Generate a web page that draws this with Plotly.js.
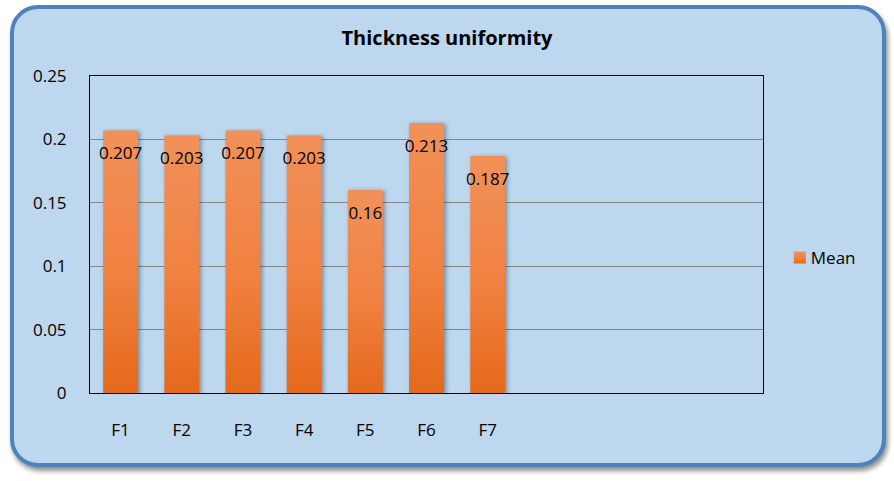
<!DOCTYPE html>
<html>
<head>
<meta charset="utf-8">
<script src="https://cdn.plot.ly/plotly-3.0.1.min.js"></script>
<style>
  html, body { margin: 0; padding: 0; background: #ffffff; }
  #wrap { position: relative; width: 894px; height: 481px; overflow: hidden; }
  #frame {
    position: absolute; left: 10px; top: 5px; width: 868px; height: 454px;
    background: #bdd7ee; border: 4px solid #4f81bd; border-radius: 28px;
    box-shadow: 2px 4px 5px rgba(0,0,0,0.45);
  }
  #chart { position: absolute; left: 0; top: 0; width: 894px; height: 481px; }
  .trace.bars .point path { filter: drop-shadow(2px 1px 2px rgba(0,0,0,0.35)); }
</style>
</head>
<body>
<div id="wrap">
  <div id="frame"></div>
  <div id="chart"></div>
</div>
<script>
const categories = ['F1', 'F2', 'F3', 'F4', 'F5', 'F6', 'F7'];
const meanValues = [0.207, 0.203, 0.207, 0.203, 0.16, 0.213, 0.187];
const valueLabels = ['0.207', '0.203', '0.207', '0.203', '0.16', '0.213', '0.187'];
const seriesName = 'Mean';
const yTickVals = [0, 0.05, 0.1, 0.15, 0.2, 0.25];
const yTickText = ['0', '0.05', '0.1', '0.15', '0.2', '0.25'];
const chartTitle = 'Thickness uniformity';

const font = 'Open Sans, Noto Sans, sans-serif';

const traces = [
  {
    type: 'bar',
    x: categories,
    y: meanValues,
    name: seriesName,
    marker: { color: '#ec7d35', line: { width: 0 } },
    hoverinfo: 'skip'
  },
  {
    type: 'scatter',
    mode: 'markers+text',
    x: categories,
    y: meanValues,
    text: valueLabels,
    textposition: 'bottom center',
    textfont: { family: font, size: 17, color: '#000000' },
    marker: { size: 24, color: 'rgba(0,0,0,0)' },
    showlegend: false,
    hoverinfo: 'skip'
  }
];

const layout = {
  width: 894,
  height: 481,
  paper_bgcolor: 'rgba(0,0,0,0)',
  plot_bgcolor: 'rgba(0,0,0,0)',
  margin: { l: 90, r: 131, t: 76, b: 88 },
  title: {
    text: '<b>' + chartTitle + '</b>',
    font: { family: font, size: 20, color: '#000000' },
    x: 0.5, xanchor: 'center', xref: 'container',
    y: 1 - 38 / 481, yref: 'container', yanchor: 'middle'
  },
  bargap: 0.43,
  showlegend: true,
  legend: {
    x: 1.025, xanchor: 'left', y: 0.426, yanchor: 'middle',
    font: { family: font, size: 17, color: '#000000' },
    bgcolor: 'rgba(0,0,0,0)',
    itemwidth: 30
  },
  xaxis: {
    type: 'category',
    categoryorder: 'array',
    categoryarray: categories,
    range: [-0.5, 10.5],
    showgrid: false,
    showline: true, linecolor: '#000000', linewidth: 1, mirror: true,
    ticks: '',
    ticklabelstandoff: 22,
    tickfont: { family: font, size: 17, color: '#000000' },
    zeroline: false,
    fixedrange: true
  },
  yaxis: {
    range: [0, 0.25],
    tickvals: yTickVals,
    ticktext: yTickText,
    showgrid: true, gridcolor: '#868686', gridwidth: 1,
    showline: true, linecolor: '#000000', linewidth: 1, mirror: true,
    ticks: '',
    ticklabelstandoff: 19,
    tickfont: { family: font, size: 17, color: '#000000' },
    zeroline: true, zerolinecolor: '#868686', zerolinewidth: 1,
    fixedrange: true
  }
};

Plotly.newPlot('chart', traces, layout, { displayModeBar: false, staticPlot: true }).then(function (gd) {
  const svg = gd.querySelector('svg.main-svg');
  const ns = 'http://www.w3.org/2000/svg';
  let defs = svg.querySelector('defs');
  if (!defs) { defs = document.createElementNS(ns, 'defs'); svg.insertBefore(defs, svg.firstChild); }
  const grad = document.createElementNS(ns, 'linearGradient');
  grad.setAttribute('id', 'barGrad');
  grad.setAttribute('x1', '0'); grad.setAttribute('y1', '0');
  grad.setAttribute('x2', '0'); grad.setAttribute('y2', '1');
  [['0%', '#f19159'], ['55%', '#f08140'], ['100%', '#e4691a']].forEach(function (s) {
    const st = document.createElementNS(ns, 'stop');
    st.setAttribute('offset', s[0]); st.setAttribute('stop-color', s[1]);
    grad.appendChild(st);
  });
  defs.appendChild(grad);
  gd.querySelectorAll('.trace.bars .point path').forEach(function (p) {
    p.style.fill = 'url(#barGrad)';
  });
  gd.querySelectorAll('.legend .legendpoints path').forEach(function (p) {
    p.style.fill = 'url(#barGrad)';
  });
  gd.querySelectorAll('.legend text.legendtext').forEach(function (t) {
    const x = parseFloat(t.getAttribute('x') || '40');
    t.setAttribute('x', String(x - 9));
  });
});
</script>
</body>
</html>
